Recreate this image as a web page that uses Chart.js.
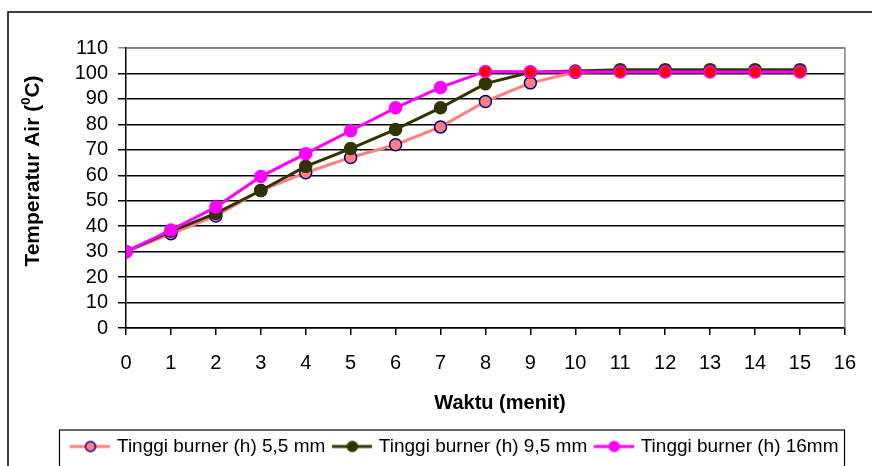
<!DOCTYPE html>
<html>
<head>
<meta charset="utf-8">
<script src="https://cdn.jsdelivr.net/npm/chart.js@4"></script>
<style>
  body { margin: 0; background: #fff; }
</style>
</head>
<body>
<canvas id="myChart" width="872" height="466"></canvas>
<script>
const FONT = "'Liberation Sans', Arial, sans-serif"

// waktu (menit) and water temperature for each burner height
const menit = [0, 1, 2, 3, 4, 5, 6, 7, 8, 9, 10, 11, 12, 13, 14, 15]
const suhu55 = [30, 37, 44, 54, 61, 67, 72, 79, 89, 96.3, 100.5, 101, 101, 101, 101, 101]
const suhu95 = [30, 38, 45, 54, 63.5, 70.5, 78, 86.5, 96, 100.5, 101, 101.5, 101.5, 101.5, 101.5, 101.5]
const suhu16 = [30, 38.5, 47.5, 59.5, 68.5, 77.5, 86.5, 94.5, 100.8, 100.7, 100.6, 100.6, 100.6, 100.6, 100.6, 100.6]
const yTicks = [0, 10, 20, 30, 40, 50, 60, 70, 80, 90, 100, 110]
const labels = ['Tinggi burner (h) 5,5 mm', 'Tinggi burner (h) 9,5 mm', 'Tinggi burner (h) 16mm']

function pts(arr) {
    return menit.map((m, i) => ({ x: m, y: arr[i] }))
}

// little line + dot picture for the legend
function legendIcon(line, fill, border) {
    const c = document.createElement('canvas')
    c.width = 40
    c.height = 14
    const g = c.getContext('2d')
    g.strokeStyle = line
    g.lineWidth = 3
    g.beginPath()
    g.moveTo(0, 7)
    g.lineTo(40, 7)
    g.stroke()
    g.beginPath()
    g.arc(20, 7, 5, 0, Math.PI * 2)
    g.fillStyle = fill
    g.fill()
    g.lineWidth = 1.5
    g.strokeStyle = border
    g.stroke()
    return c
}
const icons = [
    legendIcon('#FF8080', '#FF8080', '#000080'),
    legendIcon('#333300', '#333300', '#333300'),
    legendIcon('#FF00FF', '#FF00FF', '#FF00FF')
]

const frames = {
    id: 'frames',
    afterDraw(chart) {
        const c = chart.ctx
        const a = chart.chartArea
        c.save()
        // outer chart border
        c.strokeStyle = '#000'
        c.lineWidth = 1.5
        c.beginPath()
        c.moveTo(8, 470)
        c.lineTo(8, 12)
        c.lineTo(875, 12)
        c.stroke()
        // plot area border (top, right)
        c.strokeStyle = '#808080'
        c.lineWidth = 1.5
        c.beginPath()
        c.moveTo(a.left, a.top)
        c.lineTo(a.right, a.top)
        c.lineTo(a.right, a.bottom)
        c.stroke()
        // legend box
        const hb = chart.legend.legendHitBoxes
        if (hb && hb.length) {
            const last = hb[hb.length - 1]
            const l = hb[0].left - 14
            const r = last.left + last.width + 6
            const t = chart.legend.top + 3
            c.strokeStyle = '#000'
            c.lineWidth = 1.2
            c.strokeRect(l, t, r - l, 60)
        }
        // axis titles
        c.fillStyle = '#000'
        c.textBaseline = 'middle'
        c.textAlign = 'center'
        c.font = 'bold 20px ' + FONT
        c.fillText('Waktu (menit)', 500, 403)

        c.translate(33, 171)
        c.rotate(-Math.PI / 2)
        c.textAlign = 'left'
        const big = 'bold 21px ' + FONT
        const small = 'bold 13px ' + FONT
        const p1 = 'Temperatur Air (', p2 = '0', p3 = 'C)'
        c.font = big
        const w1 = c.measureText(p1).width, w3 = c.measureText(p3).width
        c.font = small
        const w2 = c.measureText(p2).width
        let x = -(w1 + w2 + w3) / 2
        c.font = big
        c.fillText(p1, x, 0)
        x += w1
        c.font = small
        c.fillText(p2, x, -7)
        x += w2
        c.font = big
        c.fillText(p3, x, 0)
        c.restore()
    }
}

const data = {
    datasets: [{
        label: labels[0],
        data: pts(suhu55),
        borderColor: '#FF8080',
        backgroundColor: '#FF8080',
        borderWidth: 3,
        pointRadius: 6,
        pointBackgroundColor: '#FF8080',
        pointBorderColor: '#000080',
        pointBorderWidth: 1.5,
        order: 3
    },
    {
        label: labels[1],
        data: pts(suhu95),
        borderColor: '#333300',
        backgroundColor: '#333300',
        borderWidth: 3,
        pointRadius: 6,
        pointBackgroundColor: '#333300',
        pointBorderColor: '#333300',
        pointBorderWidth: 1.5,
        order: 2
    },
    {
        label: labels[2],
        data: pts(suhu16),
        borderColor: '#FF00FF',
        backgroundColor: '#FF00FF',
        borderWidth: 3,
        pointRadius: 6,
        pointBackgroundColor: menit.map(m => m >= 8 ? '#FF0000' : '#FF00FF'),
        pointBorderColor: '#FF00FF',
        pointBorderWidth: 1.5,
        order: 1
    }]
}

const config = {
    type: 'line',
    data,
    options: {
        responsive: false,
        animation: false,
        layout: { padding: { left: 59, right: 19, top: 48, bottom: 0 } },
        plugins: {
            tooltip: { enabled: false },
            legend: {
                position: 'bottom',
                labels: {
                    usePointStyle: true,
                    pointStyleWidth: 34,
                    padding: 10,
                    color: '#000',
                    font: { family: FONT, size: 19 },
                    generateLabels: chart => chart.data.datasets.map((ds, i) => ({
                        text: ds.label,
                        pointStyle: icons[i],
                        datasetIndex: i,
                        fontColor: '#000',
                        lineWidth: 0,
                        strokeStyle: 'transparent',
                        fillStyle: 'transparent'
                    }))
                }
            }
        },
        scales: {
            x: {
                type: 'linear',
                min: 0,
                max: 16,
                afterFit: s => { s.height = 99 },
                ticks: {
                    stepSize: 1,
                    padding: 16,
                    autoSkip: false,
                    maxRotation: 0,
                    color: '#000',
                    font: { family: FONT, size: 20 }
                },
                grid: {
                    drawOnChartArea: false,
                    drawTicks: true,
                    tickLength: 7,
                    color: '#000',
                    lineWidth: 1.5
                },
                border: { color: '#000', width: 1.5 }
            },
            y: {
                min: 0,
                max: 110,
                afterFit: s => { s.width = 67 },
                afterBuildTicks: s => { s.ticks = yTicks.map(v => ({ value: v })) },
                ticks: {
                    padding: 10,
                    autoSkip: false,
                    color: '#000',
                    font: { family: FONT, size: 20 }
                },
                grid: {
                    tickLength: 8,
                    color: c => c.tick && c.tick.value === 110 ? '#808080' : '#000',
                    lineWidth: 1.5
                },
                border: { color: '#000', width: 1.5 }
            }
        }
    },
    plugins: [frames]
}

const myChart = new Chart(document.getElementById('myChart').getContext('2d'), config)
</script>
</body>
</html>
